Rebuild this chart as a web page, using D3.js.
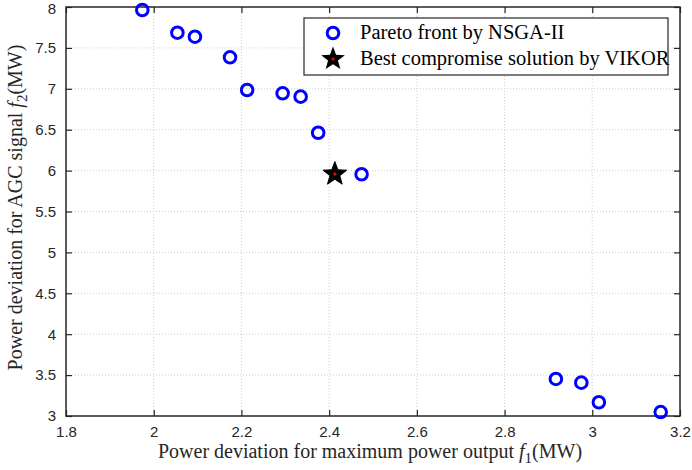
<!DOCTYPE html>
<html><head><meta charset="utf-8">
<script src="https://cdn.jsdelivr.net/npm/d3@7"></script>
<style>body{margin:0;background:#fff}svg{display:block}</style>
</head><body>
<svg id="c" width="692" height="470"></svg>
<script>
const paretoF1 = [1.974, 2.054, 2.094, 2.174, 2.213, 2.294, 2.335, 2.375, 2.474, 2.917, 2.975, 3.015, 3.156];
const paretoF2 = [7.963, 7.686, 7.637, 7.385, 6.985, 6.945, 6.904, 6.463, 5.955, 3.453, 3.408, 3.168, 3.048];
const bestF1 = [2.413];
const bestF2 = [5.958];
const xTicks = [1.8, 2, 2.2, 2.4, 2.6, 2.8, 3, 3.2];
const yTicks = [3, 3.5, 4, 4.5, 5, 5.5, 6, 6.5, 7, 7.5, 8];
const legendLabels = ["Pareto front by NSGA-II", "Best compromise solution by VIKOR"];

const svg = d3.select("#c");
const L = 66, R = 680, T = 7, B = 416;
const x = d3.scaleLinear().domain([1.8, 3.2]).range([L, R]);
const y = d3.scaleLinear().domain([3, 8]).range([B, T]);
const serif = "'Liberation Serif', 'DejaVu Serif', serif";
const sans = "'Liberation Sans', Arial, sans-serif";

// grid
const g = svg.append("g");
g.selectAll(".gx").data(xTicks.slice(1, -1)).enter().append("line")
  .attr("x1", d => x(d)).attr("x2", d => x(d)).attr("y1", T).attr("y2", B)
  .attr("stroke", "#cfcfcf").attr("stroke-width", 1).attr("stroke-dasharray", "1,2");
g.selectAll(".gy").data(yTicks.slice(1, -1)).enter().append("line")
  .attr("y1", d => y(d)).attr("y2", d => y(d)).attr("x1", L).attr("x2", R)
  .attr("stroke", "#cfcfcf").attr("stroke-width", 1).attr("stroke-dasharray", "1,2");

// axes
const fmt = d => d3.format("")(d);
const axB = d3.axisBottom(x).tickValues(xTicks).tickSizeInner(-6).tickSizeOuter(0).tickPadding(10).tickFormat(fmt);
const axT = d3.axisTop(x).tickValues(xTicks).tickSizeInner(-6).tickSizeOuter(0).tickFormat("");
const axL = d3.axisLeft(y).tickValues(yTicks).tickSizeInner(-6).tickSizeOuter(0).tickPadding(10).tickFormat(fmt);
const axR = d3.axisRight(y).tickValues(yTicks).tickSizeInner(-6).tickSizeOuter(0).tickFormat("");
function style(sel){
  sel.select(".domain").remove();
  sel.selectAll("line").attr("stroke", "#262626").attr("stroke-width", 1.2);
  sel.selectAll("text").attr("font-family", sans).attr("font-size", 15).attr("fill", "#262626");
}
svg.append("g").attr("transform", `translate(0,${B})`).call(axB).call(style);
svg.append("g").attr("transform", `translate(0,${T})`).call(axT).call(style);
const gl = svg.append("g").attr("transform", `translate(${L},0)`).call(axL).call(style);
gl.selectAll(".tick text").filter(d => d === 8).attr("dy", "0.45em");
svg.append("g").attr("transform", `translate(${R},0)`).call(axR).call(style);
svg.append("rect").attr("x", L).attr("y", T).attr("width", R - L).attr("height", B - T)
  .attr("fill", "none").attr("stroke", "#262626").attr("stroke-width", 1.5);

// star path
function starPath(ro, ri){
  const pts = [];
  for (let i = 0; i < 10; i++){
    const a = -Math.PI/2 + i*Math.PI/5;
    const r = i % 2 ? ri : ro;
    pts.push([r*Math.cos(a), r*Math.sin(a)]);
  }
  return "M" + pts.map(p => p.join(",")).join("L") + "Z";
}

// data
const pareto = paretoF1.map((d, i) => ({f1: d, f2: paretoF2[i]}));
svg.append("g").selectAll("circle").data(pareto).enter().append("circle")
  .attr("cx", d => x(d.f1)).attr("cy", d => y(d.f2)).attr("r", 5.8)
  .attr("fill", "none").attr("stroke", "#0000ff").attr("stroke-width", 3);
const best = bestF1.map((d, i) => ({f1: d, f2: bestF2[i]}));
const bg = svg.append("g").selectAll("g").data(best).enter().append("g")
  .attr("transform", d => `translate(${x(d.f1)},${y(d.f2)})`);
bg.append("path").attr("d", starPath(12.5, 5.2)).attr("fill", "#000").attr("stroke", "#000").attr("stroke-width", 1);
bg.append("circle").attr("r", 1.6).attr("fill", "#ff0000");

// legend
const lg = svg.append("g");
lg.append("rect").attr("x", 304).attr("y", 18).attr("width", 364).attr("height", 57)
  .attr("fill", "#fff").attr("stroke", "#262626").attr("stroke-width", 1.2);
lg.append("circle").attr("cx", 333).attr("cy", 33).attr("r", 5.8)
  .attr("fill", "none").attr("stroke", "#0000ff").attr("stroke-width", 3);
const ls = lg.append("g").attr("transform", "translate(333,59)");
ls.append("path").attr("d", starPath(12.5, 5.2)).attr("fill", "#000");
ls.append("circle").attr("r", 1.6).attr("fill", "#ff0000");
lg.selectAll("text").data(legendLabels).enter().append("text")
  .attr("x", 360).attr("y", (d, i) => 39 + i * 26)
  .attr("font-family", serif).attr("font-size", 20.5).attr("fill", "#000").text(d => d);

// axis titles
const xt = svg.append("text").attr("x", 370).attr("y", 458).attr("text-anchor", "middle")
  .attr("font-family", serif).attr("font-size", 20).attr("fill", "#262626");
xt.append("tspan").text("Power deviation for maximum power output ");
xt.append("tspan").attr("font-style", "italic").text("f");
xt.append("tspan").attr("font-size", 15).attr("dy", 5).text("1");
xt.append("tspan").attr("dy", -5).text("(MW)");

const yt = svg.append("text").attr("transform", `translate(22,${(T + B) / 2 - 4}) rotate(-90)`).attr("text-anchor", "middle")
  .attr("font-family", serif).attr("font-size", 20).attr("fill", "#262626");
yt.append("tspan").text("Power deviation for AGC signal ");
yt.append("tspan").attr("font-style", "italic").text("f");
yt.append("tspan").attr("font-size", 15).attr("dy", 5).text("2");
yt.append("tspan").attr("dy", -5).text("(MW)");
</script>
</body></html>
